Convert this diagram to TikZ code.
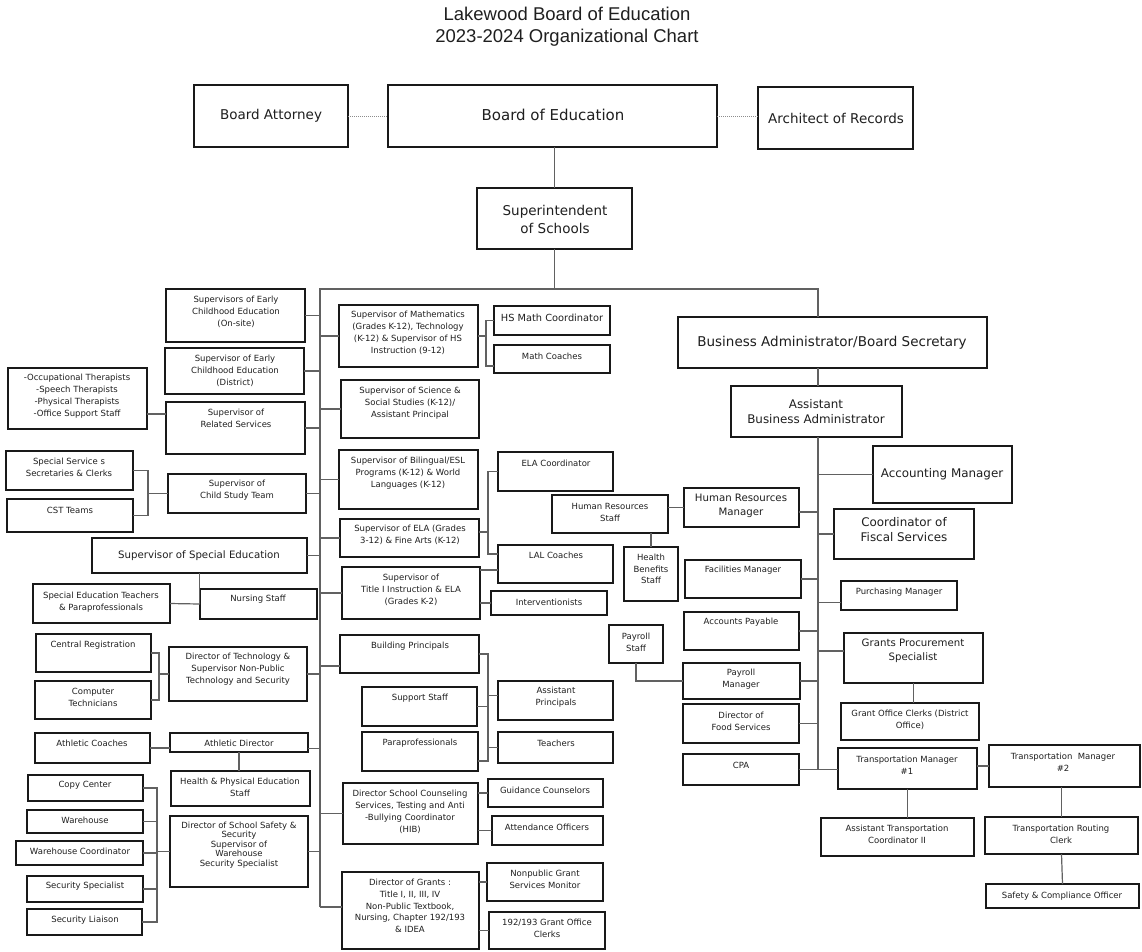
\documentclass[tikz,border=0pt]{standalone}
\usepackage{fontspec}
\setmainfont{DejaVu Sans}
\newfontfamily\titlefont{Liberation Sans}
\usetikzlibrary{calc}
\newcommand\ob[6][]{\node[bx,anchor=north west,minimum width={(#4-#2)*1pt},minimum height={(#5-#3)*1pt},#1] (#6) at (#2,#3) {};}
\tikzset{
 bx/.style={draw=black!90, line width=1.6pt, fill=white, inner sep=0pt, outer sep=0pt},
 ln/.style={draw=black!62, line width=1.2pt},
 dl/.style={draw=black!45, line width=1pt, dash pattern=on 1pt off 1pt},
 tx/.style={font=\fontsize{8.5}{11.8}\selectfont, align=center, inner sep=0pt, text=black!88},
 tbig/.style={tx,font=\fontsize{13.5}{18}\selectfont},
 tboe/.style={tx,font=\fontsize{15}{18}\selectfont},
 ttw/.style={tx,font=\fontsize{11.9}{15}\selectfont},
 tten/.style={tx,font=\fontsize{10.2}{14}\selectfont},
 tnine/.style={tx,font=\fontsize{9.8}{12}\selectfont},
 ttight/.style={tx,font=\fontsize{8.5}{9.4}\selectfont},
}
\begin{document}
\begin{tikzpicture}[x=1pt,y=-1pt]
\useasboundingbox (0,0) rectangle (1142,951);
\node[font=\titlefont\fontsize{18.5}{22}\selectfont, align=center, text=black!88, inner sep=0pt] (title) at (567,27) {Lakewood Board of Education\\2023-2024 Organizational Chart};

% top
\ob{194}{85}{348}{147}{att}   \node[tbig] (tatt) at (271,116) {Board Attorney};
\ob{388}{85}{717}{147}{boe}   \node[tboe] (tboe) at (553,115) {Board of Education};
\ob{758}{87}{913}{149}{arch}  \node[tbig] (tarch) at (836,118) {Architect of Records};
\ob{477}{188}{632}{249}{sup}  \node[tbig] (tsup) at (555,219) {Superintendent\\of Schools};

% left column
\ob{166}{289}{305}{342}{ecos} \node[tx] (tecos) at (236,312) {Supervisors of Early\\Childhood Education\\(On-site)};
\ob{165}{348}{304}{394}{ecd}  \node[tx] (tecd) at (235,371) {Supervisor of Early\\Childhood Education\\(District)};
\ob{8}{368}{147}{429}{occ}    \node[tx] (tocc) at (77,396) {-Occupational Therapists\\-Speech Therapists\\-Physical Therapists\\-Office Support Staff};
\ob{166}{402}{305}{454}{rel}  \node[tx] (trel) at (236,418) {Supervisor of\\Related Services};
\ob{6}{451}{133}{490}{sss}    \node[tx] (tsss) at (69,467) {Special Service s\\Secretaries \& Clerks};
\ob{7}{499}{133}{532}{cst}    \node[tx] (tcst) at (70,510) {CST Teams};
\ob{168}{474}{306}{513}{cstsup} \node[tx] (tcstsup) at (237,490) {Supervisor of\\Child Study Team};
\ob{92}{538}{307}{573}{sped}  \node[tten] (tsped) at (199,556) {Supervisor of Special Education};
\ob{33}{584}{170}{623}{spt}   \node[tx] (tspt) at (101,602) {Special Education Teachers\\\& Paraprofessionals};
\ob{200}{589}{317}{619}{nurse} \node[tx] (tnurse) at (258,599) {Nursing Staff};
\ob{36}{634}{151}{672}{creg}  \node[tx] (tcreg) at (93,645) {Central Registration};
\ob{35}{681}{151}{719}{ctech} \node[tx] (tctech) at (93,697) {Computer\\Technicians};
\ob{169}{647}{307}{701}{dtech} \node[tx] (tdtech) at (238,669) {Director of Technology \&\\Supervisor Non-Public\\Technology and Security};
\ob{35}{733}{150}{763}{acoach} \node[tx] (tacoach) at (92,743) {Athletic Coaches};
\ob{170}{733}{308}{752}{adir} \node[tx] (tadir) at (239,743) {Athletic Director};
\ob{171}{771}{310}{806}{hpe}  \node[tx] (thpe) at (240,787) {Health \& Physical Education\\Staff};
\ob{170}{816}{308}{887}{dss}  \node[ttight] (tdss) at (239,845) {Director of School Safety \&\\Security\\Supervisor of\\Warehouse\\Security Specialist};
\ob{28}{775}{143}{801}{copy}  \node[tx] (tcopy) at (85,785) {Copy Center};
\ob{27}{810}{143}{833}{wh}    \node[tx] (twh) at (85,820) {Warehouse};
\ob{16}{841}{143}{865}{whc}   \node[tx] (twhc) at (80,851) {Warehouse Coordinator};
\ob{27}{876}{143}{902}{secs}  \node[tx] (tsecs) at (85,886) {Security Specialist};
\ob{27}{909}{142}{935}{secl}  \node[tx] (tsecl) at (85,920) {Security Liaison};

% center column
\ob{339}{305}{478}{367}{math} \node[tx] (tmath) at (408,333) {Supervisor of Mathematics\\(Grades K-12), Technology\\(K-12) \& Supervisor of HS\\Instruction (9-12)};
\ob{494}{306}{610}{335}{hsm}  \node[tnine] (thsm) at (552,318) {HS Math Coordinator};
\ob{494}{345}{610}{373}{mc}   \node[tx] (tmc) at (552,356) {Math Coaches};
\ob{341}{380}{479}{438}{sci}  \node[tx] (tsci) at (410,403) {Supervisor of Science \&\\Social Studies (K-12)/\\Assistant Principal};
\ob{339}{450}{478}{509}{bil}  \node[tx] (tbil) at (408,473) {Supervisor of Bilingual/ESL\\Programs (K-12) \& World\\Languages (K-12)};
\ob{340}{519}{479}{557}{ela}  \node[tx] (tela) at (410,535) {Supervisor of ELA (Grades\\3-12) \& Fine Arts (K-12)};
\ob{342}{567}{480}{619}{t1}   \node[tx] (tt1) at (411,590) {Supervisor of\\Title I Instruction \& ELA\\(Grades K-2)};
\ob{498}{452}{613}{491}{elac} \node[tx] (telac) at (556,463) {ELA Coordinator};
\ob{498}{545}{613}{583}{lal}  \node[tx] (tlal) at (556,555) {LAL Coaches};
\ob{491}{591}{607}{615}{interv} \node[tx] (tinterv) at (549,602) {Interventionists};
\ob{340}{635}{479}{673}{bp}   \node[tx] (tbp) at (410,646) {Building Principals};
\ob{362}{687}{477}{726}{ss}   \node[tx] (tss) at (420,698) {Support Staff};
\ob{362}{732}{478}{771}{para} \node[tx] (tpara) at (420,743) {Paraprofessionals};
\ob{498}{681}{613}{720}{ap}   \node[tx] (tap) at (556,697.5) {Assistant\\Principals};
\ob{498}{732}{613}{763}{teach} \node[tx] (tteach) at (556,743) {Teachers};
\ob{343}{783}{478}{844}{dsc}  \node[tx] (tdsc) at (410,812) {Director School Counseling\\Services, Testing and Anti\\-Bullying Coordinator\\(HIB)};
\ob{488}{779}{603}{807}{gc}   \node[tx] (tgc) at (545,790) {Guidance Counselors};
\ob{492}{816}{603}{845}{ao}   \node[tx] (tao) at (547,827) {Attendance Officers};
\ob{342}{872}{479}{949}{dg}   \node[tx] (tdg) at (410,906) {Director of Grants :\\Title I, II, III, IV\\Non-Public Textbook,\\Nursing, Chapter 192/193\\\& IDEA};
\ob{487}{863}{603}{901}{npg}  \node[tx] (tnpg) at (545,879.5) {Nonpublic Grant\\Services Monitor};
\ob{489}{912}{605}{949}{clerks} \node[tx] (tclerks) at (547,928) {192/193 Grant Office\\Clerks};

% right side
\ob{678}{317}{987}{368}{ba}   \node[tbig] (tba) at (832,343) {Business Administrator/Board Secretary};
\ob{731}{386}{902}{437}{aba}  \node[ttw] (taba) at (816,411.5) {Assistant\\Business Administrator};
\ob{873}{446}{1012}{503}{acct} \node[ttw] (tacct) at (942,474) {Accounting Manager};
\ob{834}{509}{974}{559}{cfs}  \node[ttw] (tcfs) at (904,529.5) {Coordinator of\\Fiscal Services};
\ob{552}{495}{668}{533}{hrs}  \node[tx] (thrs) at (610,512.5) {Human Resources\\Staff};
\ob{684}{488}{799}{527}{hrm}  \node[tten] (thrm) at (741,506) {Human Resources\\Manager};
\ob{624}{547}{678}{601}{hbs}  \node[tx] (thbs) at (651,569) {Health\\Benefits\\Staff};
\ob{685}{560}{801}{598}{fac}  \node[tx] (tfac) at (743,570) {Facilities Manager};
\ob{684}{612}{799}{650}{ap2}  \node[tx] (tap2) at (741,622) {Accounts Payable};
\ob{609}{625}{663}{663}{pstaff} \node[tx] (tpstaff) at (636,642.5) {Payroll\\Staff};
\ob{683}{663}{800}{699}{pm}   \node[tx] (tpm) at (741,679) {Payroll\\Manager};
\ob{683}{704}{799}{743}{food} \node[tx] (tfood) at (741,721) {Director of\\Food Services};
\ob{683}{754}{799}{785}{cpa}  \node[tx] (tcpa) at (741,765) {CPA};
\ob{841}{581}{957}{610}{purch} \node[tx] (tpurch) at (899,592) {Purchasing Manager};
\ob{844}{633}{983}{683}{gps}  \node[tten] (tgps) at (913,651) {Grants Procurement\\Specialist};
\ob{841}{703}{979}{740}{goc}  \node[tx] (tgoc) at (910,720) {Grant Office Clerks (District\\Office)};
\ob{838}{748}{977}{789}{tm1}  \node[tx] (ttm1) at (907,765.5) {Transportation Manager\\\#1};
\ob{989}{745}{1140}{787}{tm2} \node[tx] (ttm2) at (1063,762) {Transportation~~Manager\\\#2};
\ob{821}{818}{974}{856}{atc}  \node[tx] (tatc) at (897,834.5) {Assistant Transportation\\Coordinator II};
\ob{985}{817}{1138}{854}{trc} \node[tx] (ttrc) at (1061,834) {Transportation Routing\\Clerk};
\ob{986}{884}{1139}{908}{sco} \node[tx] (tsco) at (1062,896) {Safety \& Compliance Officer};

% ---------- connectors ----------
\coordinate (busL) at (320,289);
\coordinate (busR) at (818,289);
\coordinate (spB) at (320,907);
\draw[dl] (att.east) -- (boe.west);
\draw[dl] (boe.east) -- (boe.east -| arch.west);
\draw[ln] (sup.north) -- (sup.north |- boe.south);
\draw[ln] (sup.south) -- (sup.south |- busL);
\draw[ln] (spB) -- (busL) -- (busR) -- (busR |- ba.north);
\draw[ln] (busR |- ba.south) -- (busR |- aba.north);
\coordinate (spRb) at (cpa.east -| busR);
\draw[ln] (busR |- aba.south) -- (spRb);

% left spine
\foreach \n in {ecos,ecd,rel,cstsup,sped,dtech,dss} \draw[ln] (\n.east) -- (\n.east -| busL);
\coordinate (adirc) at ([yshift=-6pt]adir.east);
\draw[ln] (adirc) -- (adirc -| busL);
\coordinate (occc) at ([yshift=-15.5pt]occ.east);
\draw[ln] (occc) -- (occc -| rel.west);
\coordinate (kA) at (148,493.5);
\draw[ln] (sss.east) -| (kA);
\draw[ln] (cst.east) -| (kA);
\draw[ln] (kA) -- (cstsup.west);
\draw[ln] (spt.east) -- (nurse.west);
\draw[ln] (sped.south) -- (sped.south |- nurse.west);
\coordinate (kB) at (159,674);
\draw[ln] (creg.east) -| (kB);
\draw[ln] (ctech.east) -| (kB);
\draw[ln] (kB) -- (dtech.west);
\draw[ln] (acoach.east) -- (acoach.east -| adir.west);
\draw[ln] (adir.south) -- (adir.south |- hpe.north);
\coordinate (kC) at (157,851.5);
\draw[ln] (copy.east) -| (kC);
\draw[ln] (secl.east) -| (kC);
\draw[ln] (wh.east) -- (wh.east -| kC);
\draw[ln] (whc.east) -- (whc.east -| kC);
\draw[ln] (secs.east) -- (secs.east -| kC);
\draw[ln] (kC) -- (dss.west);

% center column
\foreach \n in {math,sci,bil,ela,t1,dsc} \draw[ln] (\n.west -| busL) -- (\n.west);
\coordinate (bpc) at ([yshift=-12pt]bp.west);
\draw[ln] (bpc -| busL) -- (bpc);
\draw[ln] (spB) -- (dg.west |- spB);
\coordinate (kD) at (486,336);
\coordinate (mcc) at ([yshift=-7pt]mc.west);
\draw[ln] (math.east) -- (kD);
\draw[ln] (hsm.west) -| (kD);
\draw[ln] (mcc) -| (kD);
\coordinate (kE) at (488,532);
\draw[ln] (ela.east |- kE) -- (kE);
\draw[ln] (elac.west) -| (kE);
\coordinate (lalc) at ([yshift=10pt]lal.west);
\draw[ln] (lalc) -| (kE);
\coordinate (t1c) at ([yshift=-3pt]t1.north east);
\draw[ln] (t1c) -- (t1c -| lal.west);
\draw[ln] (interv.west -| t1.east) -- (interv.west);
\coordinate (kFt) at (488,654);
\coordinate (kFb) at (488,761);
\draw[ln] (bp.east |- kFt) -- (kFt) -- (kFb) -- (kFb -| para.east);
\draw[ln] (ss.east) -- (ss.east -| kFt);
\coordinate (apc) at ([yshift=5pt]ap.west);
\draw[ln] (apc) -- (apc -| kFt);
\draw[ln] (teach.west) -- (teach.west -| kFt);
\draw[ln] (gc.west -| dsc.east) -- (gc.west);
\draw[ln] (ao.west -| dsc.east) -- (ao.west);
\draw[ln] (npg.west -| dg.east) -- (npg.west);
\draw[ln] (clerks.west -| dg.east) -- (clerks.west);

% right spine
\foreach \n in {acct,cfs} \draw[ln] (\n.west -| busR) -- (\n.west);
\coordinate (purchc) at ([yshift=-7pt]purch.west);
\draw[ln] (purchc -| busR) -- (purchc);
\coordinate (gpsc) at ([yshift=7pt]gps.west);
\draw[ln] (gpsc -| busR) -- (gpsc);
\foreach \n in {fac,ap2,pm,food} \draw[ln] (\n.east) -- (\n.east -| busR);
\coordinate (hrmc) at ([yshift=-4.5pt]hrm.east);
\draw[ln] (hrmc) -- (hrmc -| busR);
\draw[ln] (cpa.east) -- (cpa.east -| tm1.west);
\draw[ln] (hrm.west -| hrs.east) -- (hrm.west);
\draw[ln] (hbs.north |- hrs.south) -- (hbs.north);
\draw[ln] (pstaff.south) |- (pm.west);
\draw[ln] (gps.south) -- (gps.south |- goc.north);
\draw[ln] (tm2.west -| tm1.east) -- (tm2.west);
\draw[ln] (tm1.south) -- (tm1.south |- atc.north);
\draw[ln] (trc.north |- tm2.south) -- (trc.north);
\draw[ln] (trc.south) -- (sco.north);
\end{tikzpicture}
\end{document}
